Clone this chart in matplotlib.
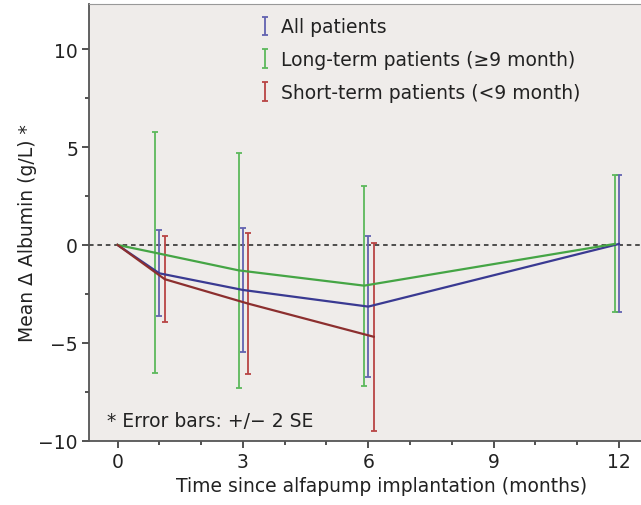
import matplotlib
matplotlib.use("Agg")
import matplotlib.pyplot as plt
from matplotlib.ticker import MultipleLocator

plt.rcParams["font.family"] = ["DejaVu Sans"]

# months since implantation (0 = baseline, no error bar)
months_all = [0, 1, 3, 6, 12]
mean_all = [0.0, -1.45, -2.3, -3.15, 0.05]
se2_all = [0.0, 2.2, 3.15, 3.6, 3.5]

months_long = [0, 1, 3, 6, 12]
mean_long = [0.0, -0.4, -1.3, -2.08, 0.05]
se2_long = [0.0, 6.15, 6.0, 5.1, 3.5]

months_short = [0, 1, 3, 6]
mean_short = [0.0, -1.75, -3.0, -4.69]
se2_short = [0.0, 2.2, 3.6, 4.8]

# small dodge so the bars do not overlap
dodge_all, dodge_long, dodge_short = 0.0, -0.1, 0.13

labels = ["All patients", "Long-term patients (\u22659 month)", "Short-term patients (<9 month)"]
line_colors = ["#3a3a92", "#45a545", "#8c2f2f"]
bar_colors = ["#6262b0", "#5cb85c", "#b84444"]
FS = 13.5

fig = plt.figure(figsize=(6.41, 5.06), dpi=100)
# plot frame runs past the right edge of the picture, as in the original crop
ax = fig.add_axes([0.139, 0.127, 0.914, 0.863])
ax.set_facecolor("#efecea")

ax.axhline(0, color="#222222", lw=1.1, ls=(0, (3, 2.5)), zorder=1)

series = [
    (months_all, mean_all, se2_all, dodge_all),
    (months_long, mean_long, se2_long, dodge_long),
    (months_short, mean_short, se2_short, dodge_short),
]
handles = []
for (m, y, e, d), lc, bc in zip(series, line_colors, bar_colors):
    x = [v + d if v > 0 else v for v in m]
    ax.plot(x, y, color=lc, lw=1.6, zorder=3)
    eb = ax.errorbar(x[1:], y[1:], yerr=e[1:], fmt="none", ecolor=bc,
                     elinewidth=1.3, capsize=2.2, capthick=1.3, zorder=2)
    handles.append(eb)

ax.set_xlim(-0.68, 13.34)
ax.set_ylim(-10, 12.3)
ax.xaxis.set_major_locator(MultipleLocator(3))
ax.xaxis.set_minor_locator(MultipleLocator(1))
ax.set_xticks([0, 3, 6, 9, 12])
ax.set_xticks([1, 2, 4, 5, 7, 8, 10, 11, 13], minor=True)
ax.yaxis.set_minor_locator(MultipleLocator(2.5))
ax.set_yticks([-10, -5, 0, 5, 10])
ax.set_yticklabels(["\u221210", "\u22125", "0", "5", "10"])
ax.tick_params(axis="both", which="major", direction="out", length=5, width=1.2,
               labelsize=FS, colors="#333333", labelcolor="#222222", pad=3)
ax.tick_params(axis="both", which="minor", direction="out", length=3, width=1.2, colors="#333333")

for side in ["top", "right"]:
    ax.spines[side].set_color("#999999")
for side in ["left", "bottom"]:
    ax.spines[side].set_color("#555555")
    ax.spines[side].set_linewidth(1.3)

ax.set_xlabel("Time since alfapump implantation (months)", fontsize=FS, color="#222222", labelpad=4)
ax.set_ylabel("Mean \u0394 Albumin (g/L) *", fontsize=FS, color="#222222")
ax.yaxis.set_label_coords(-0.089, 0.478)

ax.text(0.031, 0.034, "* Error bars: +/\u2212 2 SE", transform=ax.transAxes,
        fontsize=FS, color="#222222", va="baseline", ha="left")

leg = ax.legend(handles, labels, loc="upper left", bbox_to_anchor=(0.273, 0.995),
                frameon=False, fontsize=FS, handlelength=0.5, handletextpad=0.6,
                labelspacing=0.73, borderaxespad=0.2)
for t in leg.get_texts():
    t.set_color("#222222")

fig.savefig("out.png", dpi=100, facecolor="white")
